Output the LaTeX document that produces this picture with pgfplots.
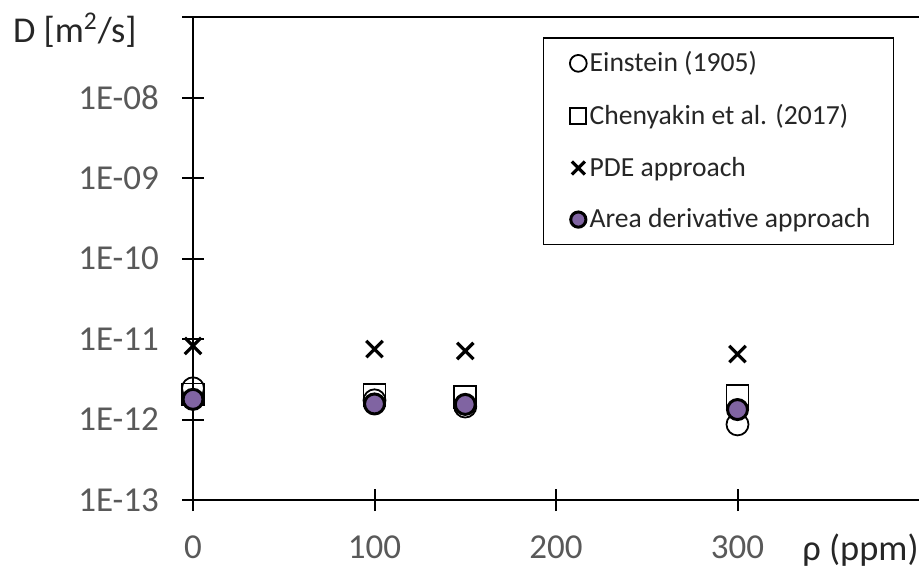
\documentclass[border=0pt]{standalone}
\usepackage{pgfplots}
\pgfplotsset{compat=1.18}
\usepackage{fontspec}
\setmainfont{Carlito}
\definecolor{tickgray}{HTML}{595959}
\definecolor{labelblack}{HTML}{262626}
\definecolor{adpurple}{HTML}{8064A2}
\pgfplotsset{
  legmark/.style={legend image code/.code={\path (-7pt,0pt); \draw[##1, mark size=#1] plot coordinates {(0pt,0pt)};}}
}
\begin{document}
\begin{tikzpicture}
\useasboundingbox (-96.5pt,-33.5pt) rectangle (363pt,250pt);
\begin{axis}[
  at={(0pt,0pt)}, anchor=south west,
  width=363pt, height=241.5pt, scale only axis,
  xmin=0, xmax=400, ymin=1e-13, ymax=1e-7, ymode=log,
  clip=false,
  axis lines=left, axis line style={-, line width=1pt, black},
  xtick={0,100,200,300},
  ytick={1e-13,1e-12,1e-11,1e-10,1e-9,1e-8,1e-7},
  yticklabels={1E-13,1E-12,1E-11,1E-10,1E-09,1E-08,{}},
  yminorticks=false,
  tick align=center, major tick length=11pt,
  tick style={line width=1pt, black},
  ticklabel style={font=\fontsize{17.5}{21}\selectfont, text=tickgray},
  /pgf/number format/assume math mode=true,
  yticklabel style={xshift=-8pt},
  xticklabel style={yshift=-9pt},
  xlabel={ρ (ppm)},
  x label style={at={(ticklabel* cs:1)}, anchor=north east, yshift=-16.5pt,
    font=\fontsize{18.2}{22}\selectfont, text=labelblack, inner sep=0pt},
  ylabel={D [m\textsuperscript{2}/s]},
  y label style={rotate=-90, at={(rel axis cs:0,1)}, anchor=east,
    xshift=-28pt, yshift=-6.5pt, font=\fontsize{18.2}{22}\selectfont,
    text=labelblack, inner sep=0pt},
  legend cell align=left,
  legend style={at={(rel axis cs:1,1)}, anchor=north east,
    xshift=-12.5pt, yshift=-10pt, draw=black, line width=0.75pt,
    font=\fontsize{13.8}{16}\selectfont, text=labelblack,
    row sep=10.7pt, inner xsep=10pt, inner ysep=5pt,
    nodes={inner xsep=1.5pt}},
]
\addplot[only marks, mark=o, mark size=5.5pt, mark options={line width=0.9pt, draw=black, fill=none},
  legmark=4.2pt]
  coordinates {(0,2.44e-12) (100,1.73e-12) (150,1.45e-12) (300,0.87e-12)};
\addlegendentry{Einstein (1905)}
\addplot[only marks, mark=square, mark size=5.5pt, mark options={line width=0.9pt, draw=black, fill=none},
  legmark=4pt]
  coordinates {(0,2.05e-12) (100,2.0e-12) (150,1.9e-12) (300,1.94e-12)};
\addlegendentry{Chenyakin et al. (2017)}
\addplot[only marks, mark=x, mark size=5.8pt, mark options={line width=1.6pt, draw=black},
  legmark=4.6pt]
  coordinates {(0,8.2e-12) (100,7.5e-12) (150,7.1e-12) (300,6.5e-12)};
\addlegendentry{PDE approach}
\addplot[only marks, mark=*, mark size=5pt, mark options={line width=1.5pt, draw=black, fill=adpurple},
  legmark=3.8pt]
  coordinates {(0,1.78e-12) (100,1.56e-12) (150,1.54e-12) (300,1.33e-12)};
\addlegendentry{Area derivative approach}
\draw[line width=1pt] (rel axis cs:0,1) -- (rel axis cs:1,1);
\end{axis}
\end{tikzpicture}
\end{document}
